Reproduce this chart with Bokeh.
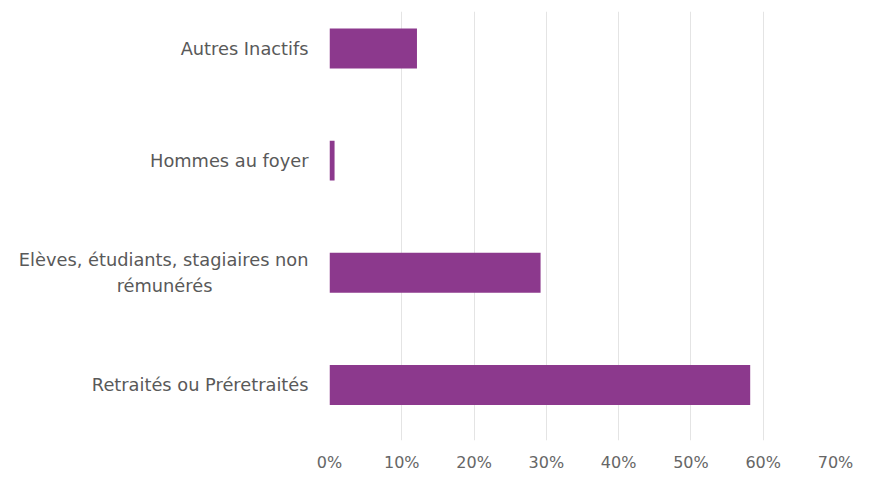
from bokeh.plotting import figure
from bokeh.models import Range1d, FixedTicker, NumeralTickFormatter
from bokeh.embed import file_html
from bokeh.resources import INLINE

# Categories listed bottom to top (second line of the long label is padded
# with non-breaking spaces so that it sits centred under the first line)
categories = [
    "Retraités ou Préretraités",
    "Elèves, étudiants, stagiaires non\nrémunérés" + "\u00a0" * 17,
    "Hommes au foyer",
    "Autres Inactifs",
]
values = [0.582, 0.292, 0.007, 0.121]
x_ticks = [0.0, 0.1, 0.2, 0.3, 0.4, 0.5, 0.6, 0.7]

positions = list(range(len(categories)))

FONT = "DejaVu Sans"
TEXT_COLOR = "#595959"

p = figure(
    width=867, height=474,
    output_backend="svg", toolbar_location=None,
    x_range=Range1d(0, 0.7), y_range=Range1d(-0.495, 3.329),
    min_border_left=329, min_border_right=32,
    min_border_top=11, min_border_bottom=31,
)
p.outline_line_color = None
p.background_fill_color = "white"
p.border_fill_color = "white"

p.hbar(y=positions, right=values, left=0, height=0.356,
       fill_color="#8C398D", line_color=None)

# x axis
p.xaxis.ticker = FixedTicker(ticks=x_ticks)
p.xaxis.formatter = NumeralTickFormatter(format="0%")
p.xaxis.axis_line_color = None
p.xaxis.major_tick_line_color = None
p.xaxis.minor_tick_line_color = None
p.xaxis.major_label_standoff = 6
p.xaxis.major_label_text_font = FONT
p.xaxis.major_label_text_font_size = "16px"
p.xaxis.major_label_text_color = "#666666"

# y axis
p.yaxis.ticker = FixedTicker(ticks=positions)
p.yaxis.major_label_overrides = {i: c for i, c in zip(positions, categories)}
p.yaxis.axis_line_color = None
p.yaxis.major_tick_line_color = None
p.yaxis.minor_tick_line_color = None
p.yaxis.major_label_standoff = 15
p.yaxis.major_label_text_font = FONT
p.yaxis.major_label_text_font_size = "17.8px"
p.yaxis.major_label_text_color = TEXT_COLOR
p.yaxis.major_label_text_line_height = 1.25

p.xgrid.ticker = FixedTicker(ticks=x_ticks)
p.xgrid.grid_line_color = "#e4e4e4"
p.ygrid.grid_line_color = None

open("out.html", "w").write(file_html(p, INLINE))
